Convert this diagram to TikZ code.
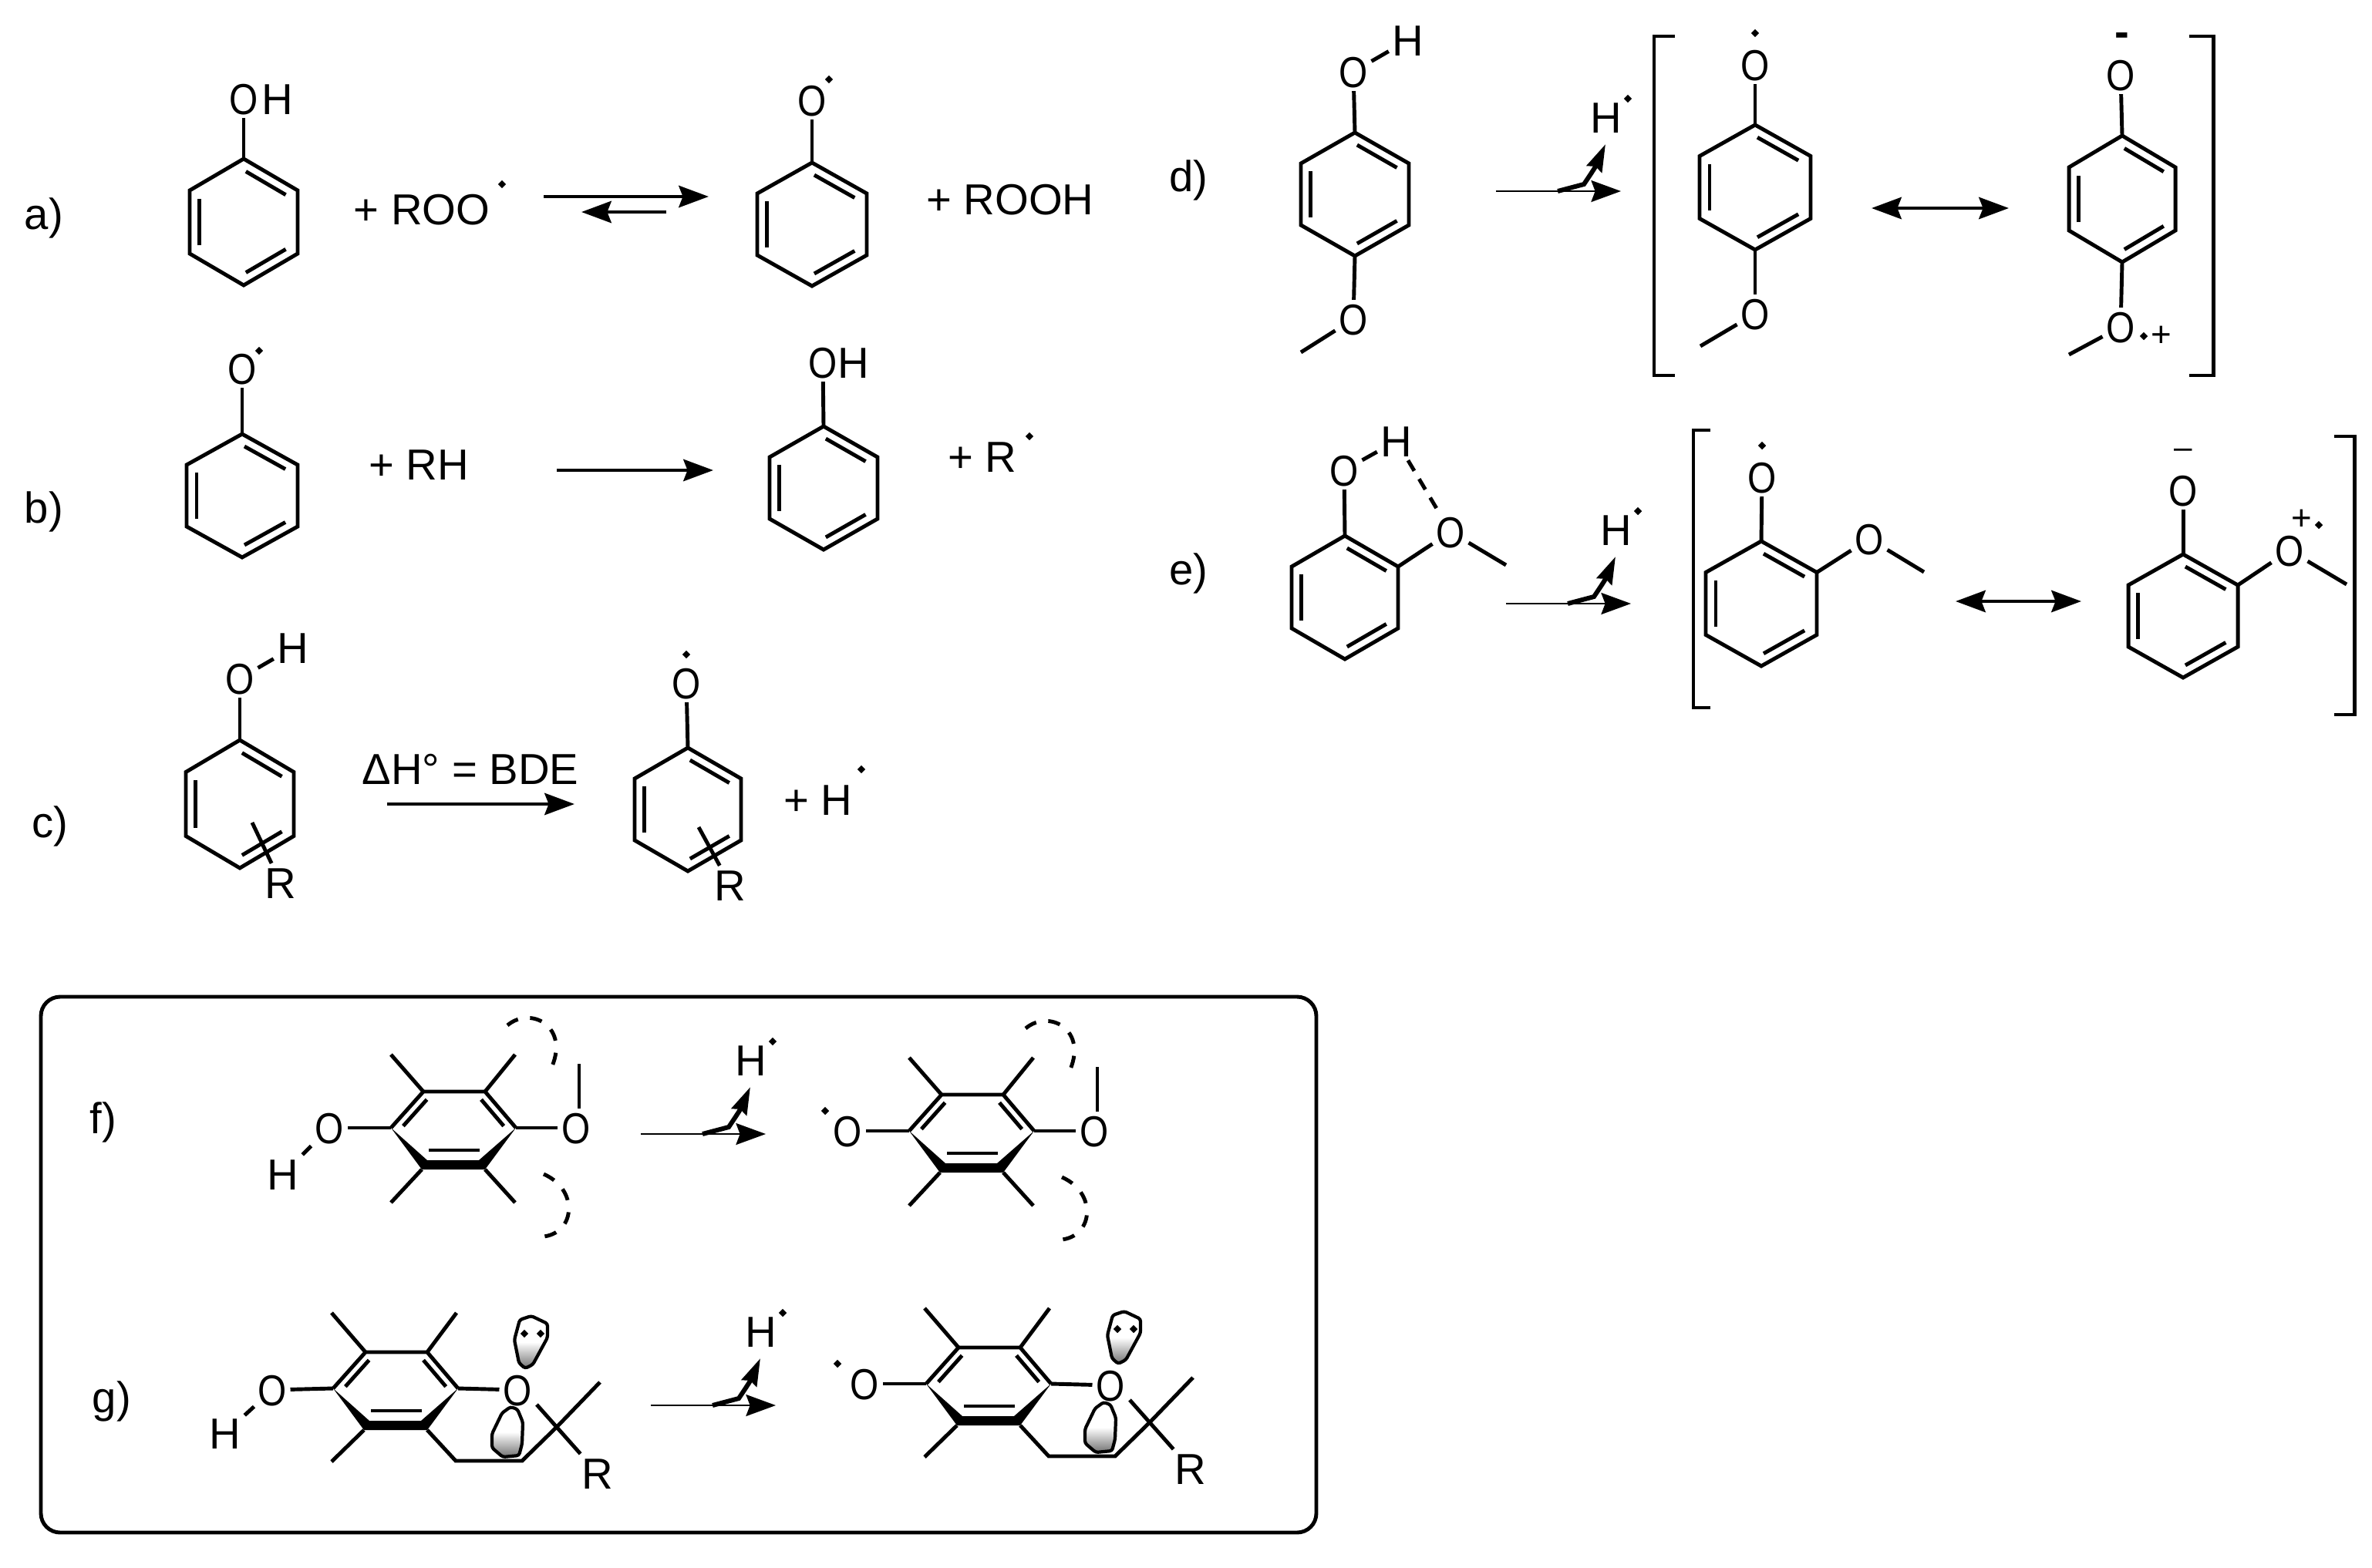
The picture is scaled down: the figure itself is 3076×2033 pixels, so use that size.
\documentclass[tikz,border=0pt]{standalone}
\usepackage{fontspec}
\setmainfont{Liberation Sans}
\usetikzlibrary{arrows.meta,calc,shapes.geometric}

\begin{document}
\begin{tikzpicture}[x=.01cm, y=-.01cm]

        \def\bw{1.4pt}              % width of the bonds
        \def\oxy{\scalebox{.85}[1]{O}}
        \tikzset{fontscale/.style = {font={\fontsize{#1pt}{#1pt}\selectfont}}}
        \tikzstyle{atom}=[fontscale=16,inner sep=1.2pt,text height=11.5pt,text depth=0pt]
        \tikzstyle{lab}=[fontscale=16,inner sep=0pt]
        \tikzstyle{rad}=[diamond,fill=black,inner sep=0pt,minimum size=.11cm]
        \tikzstyle{bond}=[line width=\bw]
        \tikzstyle{mainarrow}=[line width=\bw,arrows={-Stealth[length=11pt,width=8pt,inset=1.5pt]}]
        \tikzstyle{twoarrow}=[line width=\bw,arrows={Stealth[length=11pt,width=8pt,inset=1.5pt]-Stealth[length=11pt,width=8pt,inset=1.5pt]}]
        \tikzstyle{thinarrow}=[line width=.5pt,arrows={-Stealth[length=11pt,width=8pt,inset=1.5pt]}]
        \tikzstyle{curvy}=[line width=1.7pt,arrows={-Stealth[length=10pt,width=6pt,inset=1pt]}]
        \tikzstyle{arc}=[line width=\bw,dash pattern=on 4.5pt off 4.5pt]
        \tikzstyle{hbond}=[line width=\bw,dash pattern=on 4.5pt off 3.5pt]
        \tikzstyle{lobe}=[line width=1.2pt,draw=black,rounded corners=.03cm,top color=white,bottom color=black!55,middle color=white]

        % Ring: name, centre x, centre y, half width, half height
        \def\ring#1#2#3#4#5{
            \coordinate (#1-c) at (#2,#3);
            \coordinate (#1-1) at (#2,#3-#5);
            \coordinate (#1-2) at (#2+#4,#3-.5*#5);
            \coordinate (#1-3) at (#2+#4,#3+.5*#5);
            \coordinate (#1-4) at (#2,#3+#5);
            \coordinate (#1-5) at (#2-#4,#3+.5*#5);
            \coordinate (#1-6) at (#2-#4,#3-.5*#5);
            \draw[bond] (#1-1) -- (#1-2) -- (#1-3) -- (#1-4) -- (#1-5) -- (#1-6) -- cycle;
            \foreach \a/\b in {1/2,3/4,5/6}{
                \draw[bond] ($(#1-\a)!.05!(#1-\b)!.18!(#1-c)$) -- ($(#1-\b)!.05!(#1-\a)!.18!(#1-c)$);
            }
        }
        % H abstraction arrow: name, start x, y
        \def\abstr#1#2#3{
            \coordinate (#1-s) at (#2,#3);
            \coordinate (#1-t) at (#2+162,#3);
            \coordinate (#1-u) at (#2+80,#3);
            \coordinate (#1-k) at (#2+114,#3-9);
            \coordinate (#1-m) at (#2+128,#3-30);
            \coordinate (#1-v) at (#2+142,#3-61);
            \node[atom] (#1-H) at (#2+143,#3-96) {H};
            \node[rad] (#1-d) at (#2+171,#3-120) {};
            \draw[thinarrow] (#1-s) -- (#1-t);
            \draw[curvy] (#1-u) -- (#1-k) .. controls (#1-m) .. (#1-v);
        }
        % Square bracket: name, x, tip x, top, bottom
        \def\bracket#1#2#3#4#5{
            \coordinate (#1-a) at (#3,#4);
            \coordinate (#1-b) at (#2,#4);
            \coordinate (#1-e) at (#2,#5);
            \coordinate (#1-f) at (#3,#5);
            \draw[bond] (#1-a) -- (#1-b) -- (#1-e) -- (#1-f);
        }
        % Ring drawn in perspective: name, shift x, shift y, centre x, centre y
        \def\flatring#1#2#3#4#5{
            \begin{scope}[shift={(#2,#3)}]
            \coordinate (#1-L) at (#4-81,#5);
            \coordinate (#1-UL) at (#4-39,#5-47);
            \coordinate (#1-UR) at (#4+41,#5-47);
            \coordinate (#1-R) at (#4+81,#5);
            \coordinate (#1-LR) at (#4+41,#5+54);
            \coordinate (#1-LL) at (#4-41,#5+54);
            \coordinate (#1-BL) at (#4-34,#5+42);
            \coordinate (#1-BR) at (#4+33,#5+42);
            \draw[bond,line join=miter] (#1-L) -- (#1-UL) -- (#1-UR) -- (#1-R);
            \fill (#1-L) -- (#1-LL) -- (#1-LR) -- (#1-R) -- (#1-BR) -- (#1-BL) -- cycle;
            \draw[bond] ($(#1-L)!.06!(#1-UL)!.17!(#4,#5)$) -- ($(#1-UL)!.06!(#1-L)!.17!(#4,#5)$);
            \draw[bond] ($(#1-R)!.06!(#1-UR)!.17!(#4,#5)$) -- ($(#1-UR)!.06!(#1-R)!.17!(#4,#5)$);
            \coordinate (#1-i) at (#4-32,#5+29);
            \coordinate (#1-j) at (#4+34,#5+29);
            \draw[bond] (#1-i) -- (#1-j);
            \end{scope}
        }
        % Molecule with the two dashed arcs
        \def\fmol#1#2#3{
            \flatring{#1}{#2}{#3}{588}{1463}
            \begin{scope}[shift={(#2,#3)}]
            \coordinate (#1-m1) at (507,1368);
            \coordinate (#1-m2) at (668,1368);
            \coordinate (#1-m3) at (507,1560);
            \coordinate (#1-m4) at (668,1560);
            \coordinate (#1-m5) at (751,1380);
            \coordinate (#1-p) at (658,1330);
            \coordinate (#1-q) at (710,1395);
            \coordinate (#1-r) at (705,1523);
            \coordinate (#1-w) at (692,1604);
            \node[atom] (#1-Or) at (747,1463) {\oxy};
            \draw[bond] (#1-R) -- (#1-Or);
            \draw[bond] (#1-m5) -- (#1-m5 |- #1-Or.north);
            \draw[bond] (#1-UL) -- (#1-m1);
            \draw[bond] (#1-UR) -- (#1-m2);
            \draw[bond] (#1-LL) -- (#1-m3);
            \draw[bond] (#1-LR) -- (#1-m4);
            \draw[arc] (#1-p) .. controls (690,1303) and (745,1335) .. (#1-q);
            \draw[arc] (#1-r) .. controls (755,1545) and (745,1610) .. (#1-w);
            \end{scope}
        }
        % Molecule with the closed ring and the two lobes
        \def\gmol#1#2#3{
            \flatring{#1}{#2}{#3}{513}{1801}
            \begin{scope}[shift={(#2,#3)}]
            \coordinate (#1-m1) at (430,1703);
            \coordinate (#1-m2) at (592,1703);
            \coordinate (#1-m3) at (430,1896);
            \coordinate (#1-n1) at (591,1895);
            \coordinate (#1-n2) at (677,1895);
            \coordinate (#1-n3) at (723,1850);
            \coordinate (#1-n4) at (778,1793);
            \coordinate (#1-n5) at (696,1822);
            \node[atom] (#1-Or) at (671,1803) {\oxy};
            \node[atom] (#1-R4) at (775,1911) {R};
            \draw[lobe] (674,1712) -- (689,1707) -- (710,1717) -- (710,1735) -- (691,1770) -- (681,1775) -- (673,1768) -- (667,1738) -- cycle;
            \draw[lobe] (662,1825) -- (671,1828) -- (678,1845) -- (677,1873) -- (673,1888) -- (652,1890) -- (638,1878) -- (638,1860) -- (651,1833) -- cycle;
            \node[rad] (#1-d1) at (680,1730) {};
            \node[rad] (#1-d2) at (701,1730) {};
            \draw[bond] (#1-R) -- (#1-Or);
            \draw[bond] (#1-UL) -- (#1-m1);
            \draw[bond] (#1-UR) -- (#1-m2);
            \draw[bond] (#1-LL) -- (#1-m3);
            \draw[bond] (#1-LR) -- (#1-n1) -- (#1-n2) -- (#1-n3);
            \draw[bond] (#1-n3) -- (#1-n4);
            \draw[bond] (#1-n5) -- (#1-R4);
            \end{scope}
        }

        \useasboundingbox (0,0) rectangle (3076,2033);

        % Reaction a
        \node[lab] (la) at (57,283) {a)};
        \ring{a1}{316}{288}{70}{82}
        \node[atom] (a1-O) at (316,128) {\oxy};
        \node[atom] (a1-H) at (360,128) {H};
        \draw[bond] (a1-1) -- (a1-O);
        \node[lab] (a1-p) at (547,272) {+ ROO};
        \node[rad] (a1-d) at (651,239) {};
        \coordinate (af-s) at (705,255);
        \coordinate (af-e) at (919,255);
        \coordinate (ab-s) at (864,275);
        \coordinate (ab-e) at (754,275);
        \draw[mainarrow] (af-s) -- (af-e);
        \draw[mainarrow] (ab-s) -- (ab-e);
        \ring{a2}{1053}{291}{71}{80}
        \node[atom] (a2-O) at (1053,130) {\oxy};
        \node[rad] (a2-d) at (1075,103) {};
        \draw[bond] (a2-1) -- (a2-O);
        \node[lab] (a2-p) at (1310,259) {+ ROOH};

        % Reaction b
        \node[lab] (lb) at (57,664) {b)};
        \ring{b1}{314}{643}{72}{80}
        \node[atom] (b1-O) at (314,478) {\oxy};
        \node[rad] (b1-d) at (336,455) {};
        \draw[bond] (b1-1) -- (b1-O);
        \node[lab] (b1-p) at (543,603) {+ RH};
        \coordinate (bf-s) at (722,610);
        \coordinate (bf-e) at (925,610);
        \draw[mainarrow] (bf-s) -- (bf-e);
        \ring{b2}{1068}{633}{70}{80}
        \node[atom] (b2-O) at (1067,470) {\oxy};
        \node[atom] (b2-H) at (1107,470) {H};
        \draw[bond] (b2-1) -- (b2-O);
        \node[lab] (b2-p) at (1274,593) {+ R};
        \node[rad] (b2-d) at (1335,566) {};

        % Reaction c
        \node[lab] (lc) at (65,1072) {c)};
        \ring{c1}{311}{1043}{70}{83}
        \node[atom] (c1-O) at (311,880) {\oxy};
        \node[atom] (c1-H) at (380,840) {H};
        \node[atom] (c1-R) at (364,1145) {R};
        \coordinate (c1-x) at (327,1067);
        \draw[bond] (c1-1) -- (c1-O);
        \draw[bond] (c1-O) -- (c1-H);
        \draw[bond] (c1-x) -- (c1-R);
        \node[lab] (c-t) at (610,998) {ΔH° = BDE};
        \coordinate (cf-s) at (502,1043);
        \coordinate (cf-e) at (745,1043);
        \draw[mainarrow] (cf-s) -- (cf-e);
        \ring{c2}{892}{1050}{69}{80}
        \node[atom] (c2-O) at (890,886) {\oxy};
        \node[rad] (c2-d) at (890,849) {};
        \node[atom] (c2-R) at (947,1148) {R};
        \coordinate (c2-x) at (906,1073);
        \draw[bond] (c2-1) -- (c2-O);
        \draw[bond] (c2-x) -- (c2-R);
        \node[lab] (c2-p) at (1061,1038) {+ H};
        \node[rad] (c2-e) at (1117,998) {};

        % Reaction d
        \node[lab] (ld) at (1541,234) {d)};
        \ring{d1}{1757}{252}{70}{80}
        \node[atom] (d1-O) at (1755,93) {\oxy};
        \node[atom] (d1-H) at (1826,52) {H};
        \node[atom] (d1-Q) at (1755,414) {\oxy};
        \coordinate (d1-M) at (1687,457);
        \draw[bond] (d1-1) -- (d1-O);
        \draw[bond] (d1-O) -- (d1-H);
        \draw[bond] (d1-4) -- (d1-Q);
        \draw[bond] (d1-Q) -- (d1-M);
        \abstr{dA}{1940}{248}
        \bracket{dL}{2145}{2172}{47}{487}
        \ring{d2}{2276}{243}{72}{81}
        \node[atom] (d2-O) at (2276,84) {\oxy};
        \node[rad] (d2-d) at (2276,43) {};
        \node[atom] (d2-Q) at (2276,407) {\oxy};
        \coordinate (d2-M) at (2205,449);
        \draw[bond] (d2-1) -- (d2-O);
        \draw[bond] (d2-4) -- (d2-Q);
        \draw[bond] (d2-Q) -- (d2-M);
        \coordinate (dR-s) at (2427,270);
        \coordinate (dR-e) at (2605,270);
        \draw[twoarrow] (dR-s) -- (dR-e);
        \ring{d3}{2752}{258}{69}{82}
        \node[atom] (d3-O) at (2750,97) {\oxy};
        \node[lab,font=\fontsize{16pt}{16pt}\selectfont\bfseries] (d3-m) at (2752,52) {-};
        \node[atom] (d3-Q) at (2750,424) {\oxy};
        \coordinate (d3-M) at (2683,460);
        \node[rad] (d3-d) at (2780,436) {};
        \node[lab,fontscale=13] (d3-p) at (2803,436) {+};
        \draw[bond] (d3-1) -- (d3-O);
        \draw[bond] (d3-4) -- (d3-Q);
        \draw[bond] (d3-Q) -- (d3-M);
        \bracket{dS}{2870}{2839}{47}{487}

        % Reaction e
        \node[lab] (le) at (1541,744) {e)};
        \ring{e1}{1744}{775}{69}{80}
        \node[atom] (e1-O) at (1743,610) {\oxy};
        \node[atom] (e1-H) at (1811,572) {H};
        \node[atom] (e1-Q) at (1881,690) {\oxy};
        \coordinate (e1-M) at (1953,733);
        \draw[bond] (e1-1) -- (e1-O);
        \draw[bond] (e1-O) -- (e1-H);
        \draw[bond] (e1-2) -- (e1-Q);
        \draw[bond] (e1-Q) -- (e1-M);
        \draw[hbond] (e1-H) -- (e1-Q);
        \abstr{eA}{1953}{783}
        \bracket{eL}{2196}{2218}{558}{918}
        \ring{e2}{2284}{783}{72}{81}
        \node[atom] (e2-O) at (2285,619) {\oxy};
        \node[rad] (e2-d) at (2285,578) {};
        \node[atom] (e2-Q) at (2424,699) {\oxy};
        \coordinate (e2-M) at (2495,742);
        \draw[bond] (e2-1) -- (e2-O);
        \draw[bond] (e2-2) -- (e2-Q);
        \draw[bond] (e2-Q) -- (e2-M);
        \coordinate (eR-s) at (2536,780);
        \coordinate (eR-e) at (2699,780);
        \draw[twoarrow] (eR-s) -- (eR-e);
        \ring{e3}{2831}{799}{71}{80}
        \node[atom] (e3-O) at (2831,636) {\oxy};
        \node[lab,fontscale=12] (e3-m) at (2831,588) {–};
        \node[atom] (e3-Q) at (2969,714) {\oxy};
        \node[lab,fontscale=13] (e3-p) at (2985,674) {+};
        \node[rad] (e3-d) at (3007,681) {};
        \coordinate (e3-M) at (3043,758);
        \draw[bond] (e3-1) -- (e3-O);
        \draw[bond] (e3-2) -- (e3-Q);
        \draw[bond] (e3-Q) -- (e3-M);
        \bracket{eS}{3053}{3027}{566}{927}

        % The box around f and g
        \draw[bond,rounded corners=.25cm] (53,1293) rectangle (1707,1988);

        % Reaction f
        \node[lab] (lf) at (134,1456) {f)};
        \fmol{f1}{0}{0}
        \node[atom] (f1-O) at (427,1463) {\oxy};
        \node[atom] (f1-H) at (367,1523) {H};
        \draw[bond] (f1-L) -- (f1-O);
        \draw[bond] (f1-O) -- (f1-H);
        \abstr{fA}{831}{1471}
        \fmol{f2}{672}{4}
        \node[atom] (f2-O) at (1099,1467) {\oxy};
        \node[rad] (f2-d) at (1070,1441) {};
        \draw[bond] (f2-L) -- (f2-O);

        % Reaction g
        \node[lab] (lg) at (145,1818) {g)};
        \gmol{g1}{0}{0}
        \node[atom] (g1-O) at (353,1803) {\oxy};
        \node[atom] (g1-H) at (292,1859) {H};
        \draw[bond] (g1-L) -- (g1-O);
        \draw[bond] (g1-O) -- (g1-H);
        \abstr{gA}{844}{1823}
        \gmol{g2}{769}{-6}
        \node[atom] (g2-O) at (1121,1795) {\oxy};
        \node[rad] (g2-d) at (1086,1769) {};
        \draw[bond] (g2-L) -- (g2-O);

\end{tikzpicture}
\end{document}
